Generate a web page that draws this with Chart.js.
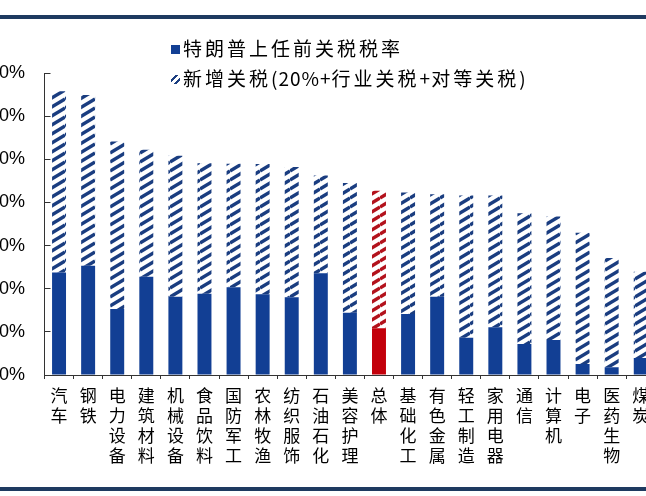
<!DOCTYPE html>
<html>
<head>
<meta charset="utf-8">
<script src="https://cdn.jsdelivr.net/npm/chart.js@4.4.1/dist/chart.umd.min.js"></script>
<style>
  html, body { margin: 0; padding: 0; background: #fff; }
  body { width: 646px; height: 496px; overflow: hidden; position: relative; }
  #wrap { position: absolute; left: -40px; top: 0; width: 740px; height: 496px; }
  .rule { position: absolute; left: 0; width: 646px; background: #1e3a60; }
  .legend { position: absolute; left: 171px; font-family: "Noto Sans CJK SC", sans-serif; font-size: 19px; letter-spacing: 3px; color: #000; white-space: nowrap; }
  .legend .box { display: inline-block; width: 9px; height: 9px; margin-right: 3px; vertical-align: 2px; }
  .legend .asc { letter-spacing: 1px; }
</style>
</head>
<body>
<div class="rule" style="top:15px;height:4px;"></div>
<div class="rule" style="top:487px;height:4px;"></div>
<div id="wrap"><canvas id="chart"></canvas></div>
<div class="legend" style="top:34px;"><span class="box" style="background:#123f94"></span>特朗普上任前关税税率</div>
<div class="legend" style="top:64px;"><span class="box" style="background:repeating-linear-gradient(135deg,#fff 0 3px,#1a3d80 3px 5px)"></span>新增关税<span class="asc">(20%+</span>行业关税<span class="asc">+</span>对等关税<span class="asc">)</span></div>

<script>
// categories (申万行业)
const categories = ['汽车', '钢铁', '电力设备', '建筑材料', '机械设备', '食品饮料', '国防军工', '农林牧渔', '纺织服饰', '石油石化',
  '美容护理', '总体', '基础化工', '有色金属', '轻工制造', '家用电器', '通信', '计算机', '电子', '医药生物', '煤炭'];

// 特朗普上任前关税税率 (%)
const baseRate = [47.5, 50.6, 30.6, 45.5, 36.3, 37.7, 40.7, 37.4, 36.0, 47.2,
  28.9, 21.7, 28.3, 36.3, 17.3, 22.1, 14.4, 16.2, 5.1, 3.6, 7.9];

// 新增关税 (20%+行业关税+对等关税) (%)
const addedRate = [84.0, 79.2, 77.7, 58.9, 65.3, 60.5, 57.2, 60.4, 60.4, 45.3,
  60.1, 63.7, 56.3, 47.5, 65.9, 61.1, 60.6, 57.3, 60.9, 50.6, 40.0];

const yTicks = [0, 20, 40, 60, 80, 100, 120, 140];

const highlight = '总体';

function hatch(color) {
  const c = document.createElement('canvas');
  c.width = 15; c.height = 9;
  const g = c.getContext('2d');
  g.fillStyle = '#fff';
  g.fillRect(0, 0, 15, 9);
  g.strokeStyle = color;
  g.lineWidth = 3.4;
  for (let k = -1; k <= 1; k++) {
    g.beginPath();
    g.moveTo(0, 9 + k * 9);
    g.lineTo(15, 0 + k * 9);
    g.stroke();
  }
  return g.createPattern(c, 'repeat');
}

const blueHatch = hatch('#1a3d80');
const redHatch = hatch('#b3121c');

const solidColors = categories.map(c => c === highlight ? '#c3000b' : '#123f94');
const hatchColors = categories.map(c => c === highlight ? redHatch : blueHatch);

const data = {
  labels: categories.map(c => c.split('')),
  datasets: [
    {
      label: '特朗普上任前关税税率',
      data: baseRate,
      backgroundColor: solidColors,
      barPercentage: 0.48,
      categoryPercentage: 1
    },
    {
      label: '新增关税(20%+行业关税+对等关税)',
      data: addedRate,
      backgroundColor: hatchColors,
      barPercentage: 0.48,
      categoryPercentage: 1
    }
  ]
};

const config = {
  type: 'bar',
  data,
  options: {
    responsive: true,
    maintainAspectRatio: false,
    animation: false,
    layout: { padding: { top: 73, right: 44.7, bottom: 0, left: 0 } },
    plugins: {
      legend: { display: false },
      tooltip: { enabled: false }
    },
    scales: {
      x: {
        stacked: true,
        grid: { drawOnChartArea: false, drawTicks: true, tickLength: 4, color: '#333', offset: true },
        border: { display: true, color: '#333', width: 1 },
        ticks: {
          autoSkip: false,
          maxRotation: 0,
          padding: 7,
          color: '#000',
          font: { family: '"Noto Sans CJK SC", sans-serif', size: 17, lineHeight: '20px' }
        },
        afterFit: function(scale) { scale.height = 121; }
      },
      y: {
        stacked: true,
        min: 0,
        max: 140,
        afterBuildTicks: function(scale) { scale.ticks = yTicks.map(v => ({ value: v })); },
        grid: { drawOnChartArea: false, drawTicks: true, tickLength: -6, color: '#333' },
        border: { display: true, color: '#333', width: 1 },
        ticks: {
          padding: 25.5,
          color: '#000',
          font: { family: '"Liberation Sans", Arial, sans-serif', size: 18 },
          callback: v => v + '%'
        },
        afterFit: function(scale) { scale.width = 84.5; }
      }
    }
  }
};

const myChart = new Chart(document.getElementById('chart'), config);
</script>
</body>
</html>
